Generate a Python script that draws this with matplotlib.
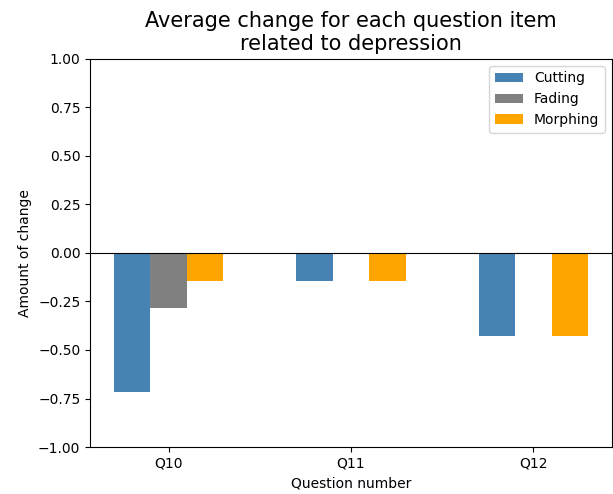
import numpy as np
from matplotlib import pyplot as plt

questions = ['Q10', 'Q11', 'Q12']
cutting = [-0.714, -0.143, -0.429]
fading = [-0.286, 0.0, 0.0]
morphing = [-0.143, -0.143, -0.429]

x = np.arange(len(questions))
w = 0.2

fig, ax = plt.subplots(figsize=(6.13, 4.94), dpi=100)
fig.subplots_adjust(left=0.147, right=0.998, bottom=0.095, top=0.881)

ax.bar(x - w, cutting, w, color='steelblue', label='Cutting')
ax.bar(x, fading, w, color='gray', label='Fading')
ax.bar(x + w, morphing, w, color='orange', label='Morphing')
ax.axhline(0, color='black', linewidth=0.8)

ax.set_ylim(-1, 1)
ax.set_yticks(np.arange(-1, 1.01, 0.25))
ax.set_xticks(x)
ax.set_xticklabels(questions)
ax.set_xlabel('Question number')
ax.set_ylabel('Amount of change')
ax.set_title('Average change for each question item\nrelated to depression', fontsize=15)
ax.legend(loc='upper right')

fig.savefig('out.png', dpi=100)
